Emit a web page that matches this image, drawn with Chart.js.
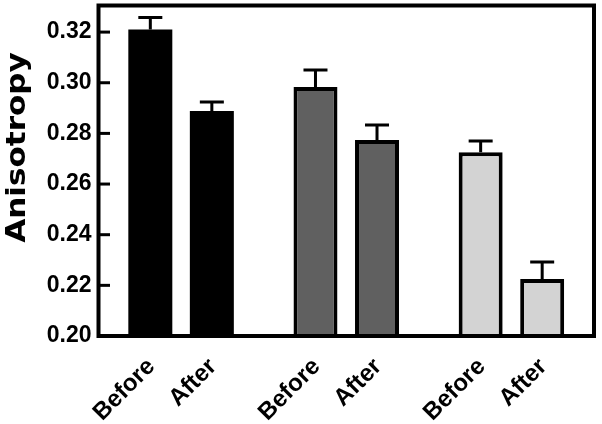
<!DOCTYPE html>
<html>
<head>
<meta charset="utf-8">
<script src="https://cdn.jsdelivr.net/npm/chart.js@4/dist/chart.umd.min.js"></script>
<style>
  html, body { margin: 0; padding: 0; background: #fff; }
  #wrap { width: 602px; height: 424px; }
</style>
</head>
<body>
<div id="wrap"><canvas id="chart"></canvas></div>
<script>
// Données
const groups = ['Groupe 1', 'Groupe 2', 'Groupe 3'];
const seriesNames = ['Before', 'After'];
const beforeValues = [0.3210, 0.2983, 0.2726];
const afterValues = [0.2888, 0.2774, 0.2225];
const beforeErrors = [0.0048, 0.0067, 0.0044];
const afterErrors = [0.0036, 0.0059, 0.0067];
const groupColors = ['#000000', '#606060', '#d3d3d3'];
const yMin = 0.20;
const yMax = 0.3305;
const yStep = 0.01;
const yTitle = 'Anisotropy';

const errorsBySeries = [beforeErrors, afterErrors];

// Cadre, graduations, barres d'erreur et libellés dessinés à la main
const decorPlugin = {
    id: 'decor',
    afterDatasetsDraw(chart) {
        const ctx = chart.ctx;
        const y = chart.scales.y;
        ctx.save();
        ctx.strokeStyle = '#000';
        ctx.lineWidth = 3;
        chart.data.datasets.forEach((ds, di) => {
            const meta = chart.getDatasetMeta(di);
            meta.data.forEach((bar, i) => {
                const top = y.getPixelForValue(ds.data[i] + errorsBySeries[di][i]);
                ctx.beginPath();
                ctx.moveTo(bar.x, bar.y);
                ctx.lineTo(bar.x, top);
                ctx.moveTo(bar.x - 12, top);
                ctx.lineTo(bar.x + 12, top);
                ctx.stroke();
            });
        });
        ctx.restore();
    },
    afterDraw(chart) {
        const ctx = chart.ctx;
        const area = chart.chartArea;
        const y = chart.scales.y;
        ctx.save();

        // graduations intérieures
        ctx.strokeStyle = '#000';
        ctx.lineWidth = 3;
        y.ticks.forEach(t => {
            const n = Math.round(t.value * 100);
            if (Math.abs(t.value * 100 - n) > 1e-6) return;
            const len = n % 2 === 0 ? 11.5 : 7.5;
            const py = y.getPixelForValue(t.value);
            ctx.beginPath();
            ctx.moveTo(area.left, py);
            ctx.lineTo(area.left + len, py);
            ctx.stroke();
        });

        // cadre
        ctx.lineWidth = 4;
        ctx.strokeRect(area.left, area.top, area.right - area.left, area.bottom - area.top);

        // libellés sous chaque barre
        ctx.fillStyle = '#000';
        ctx.font = 'bold 24px "Liberation Sans"';
        ctx.textAlign = 'right';
        ctx.textBaseline = 'middle';
        chart.data.datasets.forEach((ds, di) => {
            const meta = chart.getDatasetMeta(di);
            meta.data.forEach(bar => {
                ctx.save();
                ctx.translate(bar.x + 1, area.bottom + 27);
                ctx.rotate(-Math.PI / 4);
                ctx.fillText(ds.label, 0, 0);
                ctx.restore();
            });
        });

        // titre de l'axe Y
        ctx.font = 'bold 27px "DejaVu Sans"';
        ctx.textAlign = 'center';
        ctx.textBaseline = 'alphabetic';
        ctx.translate(25, 147.5);
        ctx.rotate(-Math.PI / 2);
        ctx.scale(1.15, 1);
        ctx.fillText(yTitle, 0, 0);
        ctx.restore();
    }
};

const datasets = seriesNames.map((name, si) => ({
    label: name,
    data: si === 0 ? beforeValues : afterValues,
    backgroundColor: groupColors,
    borderColor: '#000',
    // pas de bordure sur les barres noires (évite un liseré)
    borderWidth: c => (groupColors[c.dataIndex] === '#000000' ? 0 : 4),
    categoryPercentage: 0.745,
    barPercentage: 0.715
}));

new Chart(document.getElementById('chart'), {
    type: 'bar',
    data: { labels: groups, datasets: datasets },
    options: {
        responsive: true,
        maintainAspectRatio: false,
        animation: false,
        layout: { padding: { left: 0, right: 8, top: 5.5, bottom: 88 } },
        plugins: {
            legend: { display: false },
            tooltip: { enabled: false }
        },
        scales: {
            x: {
                grid: { display: false },
                border: { display: false },
                ticks: { display: false },
                afterFit: s => {
                    s.height = 0;
                    s.paddingLeft = 0;
                    s.paddingRight = 0;
                }
            },
            y: {
                min: yMin,
                max: yMax,
                grid: { display: false, drawTicks: false },
                border: { display: false },
                ticks: {
                    stepSize: yStep,
                    padding: 7,
                    color: '#000',
                    font: { family: '"Liberation Sans"', size: 23, weight: 'bold' },
                    callback: v => {
                        const n = Math.round(v * 100);
                        if (Math.abs(v * 100 - n) > 1e-6 || n % 2 !== 0) return '';
                        return v.toFixed(2);
                    }
                },
                afterFit: s => {
                    s.width = 98.5;
                    s.paddingTop = 0;
                    s.paddingBottom = 0;
                }
            }
        }
    },
    plugins: [decorPlugin]
});
</script>
</body>
</html>
